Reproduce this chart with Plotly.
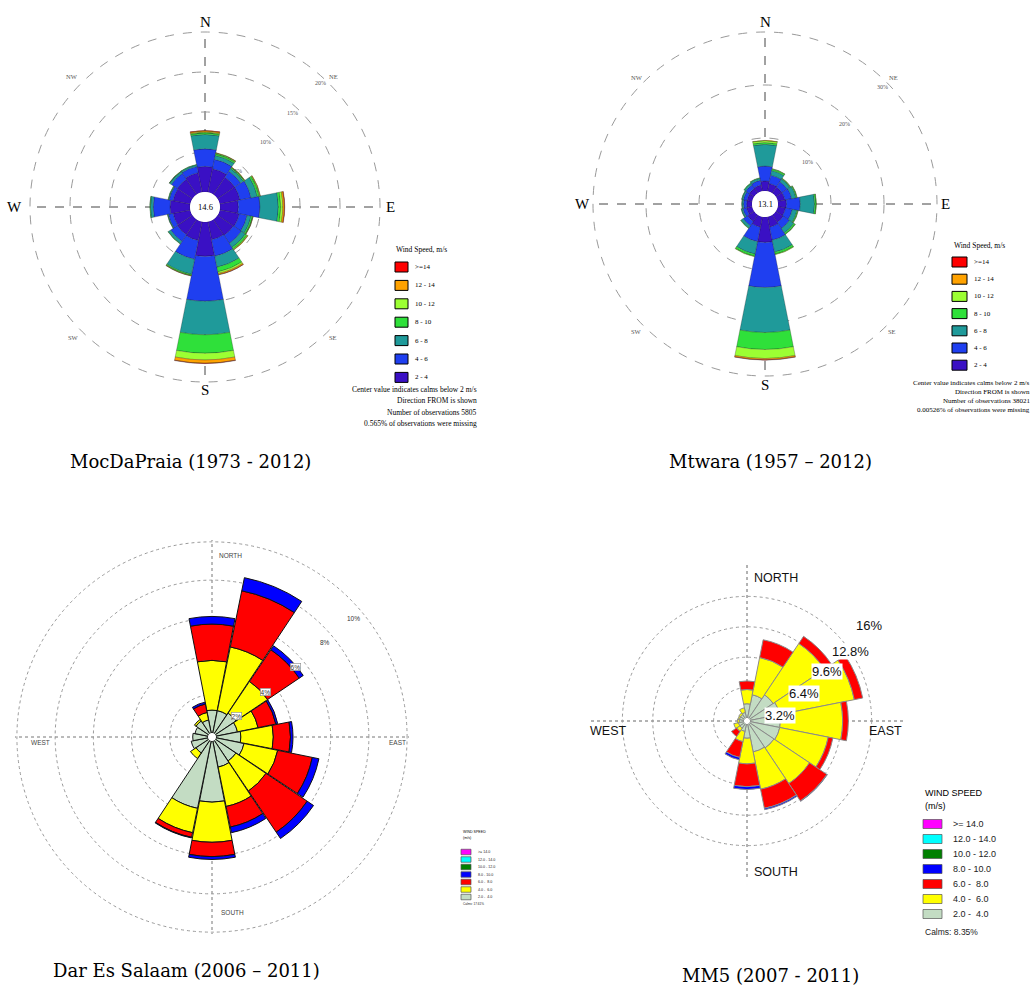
import math
import plotly.graph_objects as go

W, H = 1034, 987
SERIF = "Liberation Serif, DejaVu Serif, serif"
SERIF_WIDE = "DejaVu Serif, Liberation Serif, serif"
SANS = "Liberation Sans, Arial, sans-serif"

# ---------------- data ----------------
DIRECTIONS = ["N", "NNE", "NE", "ENE", "E", "ESE", "SE", "SSE",
              "S", "SSW", "SW", "WSW", "W", "WNW", "NW", "NNW"]
DIR_DEG = [0, 22.5, 45, 67.5, 90, 112.5, 135, 157.5,
           180, 202.5, 225, 247.5, 270, 292.5, 315, 337.5]

BINS_A = ["2 - 4", "4 - 6", "6 - 8", "8 - 10", "10 - 12", "12 - 14", ">=14"]
COLORS_A = ["#3a10c4", "#1f3ff0", "#1f9a9a", "#2fe03a", "#9cff33", "#ffa200", "#ff0000"]

BINS_B = ["2.0 -  4.0", "4.0 -  6.0", "6.0 -  8.0", "8.0 - 10.0", "10.0 - 12.0", "12.0 - 14.0", ">= 14.0"]
COLORS_B = ["#c3dcc3", "#ffff00", "#ff0000", "#0000ff", "#008000", "#00ffff", "#ff00ff"]

# MocDaPraia (1973 - 2012), % frequency per direction
moc_2_4 = [3.2, 3.0, 2.6, 2.6, 2.3, 2.5, 2.4, 2.3, 4.3, 2.4, 2.3, 2.2, 2.5, 2.2, 2.3, 2.5]
moc_4_6 = [2.2, 1.2, 0.9, 1.4, 2.7, 1.0, 1.2, 2.1, 5.6, 2.4, 1.0, 0.6, 2.1, 0.5, 0.9, 0.8]
moc_6_8 = [1.8, 0.5, 0.4, 0.8, 2.3, 0.5, 0.6, 1.4, 4.2, 1.9, 0.35, 0.1, 0.35, 0.1, 0.25, 0.2]
moc_8_10 = [0.2, 0.2, 0.15, 0.25, 0.3, 0.2, 0.25, 0.6, 2.3, 0.15, 0.05, 0.03, 0.08, 0.05, 0.05, 0.05]
moc_10_12 = [0.1, 0.1, 0.05, 0.1, 0.25, 0.05, 0.1, 0.2, 0.85, 0.05, 0.0, 0.0, 0.0, 0.0, 0.02, 0.0]
moc_12_14 = [0.15, 0.05, 0.03, 0.05, 0.2, 0.02, 0.05, 0.15, 0.4, 0.02, 0.0, 0.0, 0.0, 0.0, 0.0, 0.0]
moc_14 = [0.05, 0.0, 0.0, 0.0, 0.05, 0.0, 0.0, 0.02, 0.05, 0.0, 0.0, 0.0, 0.0, 0.0, 0.0, 0.0]

# Mtwara (1957 - 2012)
mtw_2_4 = [1.9, 1.5, 1.4, 1.4, 1.6, 1.5, 1.7, 2.0, 4.8, 2.0, 1.5, 1.1, 1.0, 1.0, 1.1, 1.2]
mtw_4_6 = [2.8, 1.6, 1.2, 1.3, 2.6, 1.3, 1.4, 2.5, 8.5, 2.8, 1.0, 0.7, 0.6, 0.7, 0.8, 0.9]
mtw_6_8 = [4.1, 0.9, 0.6, 0.8, 2.7, 0.9, 1.0, 2.3, 8.5, 2.4, 0.5, 0.3, 0.3, 0.3, 0.35, 0.4]
mtw_8_10 = [0.35, 0.3, 0.15, 0.2, 0.3, 0.2, 0.3, 0.4, 3.2, 0.4, 0.1, 0.05, 0.05, 0.05, 0.1, 0.1]
mtw_10_12 = [0.35, 0.05, 0.05, 0.05, 0.05, 0.05, 0.05, 0.1, 1.7, 0.1, 0.0, 0.0, 0.0, 0.0, 0.0, 0.0]
mtw_12_14 = [0.05, 0.0, 0.0, 0.0, 0.0, 0.0, 0.0, 0.0, 0.25, 0.0, 0.0, 0.0, 0.0, 0.0, 0.0, 0.0]
mtw_14 = [0.0, 0.0, 0.0, 0.0, 0.0, 0.0, 0.0, 0.0, 0.05, 0.0, 0.0, 0.0, 0.0, 0.0, 0.0, 0.0]

# Dar Es Salaam (2006 - 2011)
dar_2_4 = [1.2, 1.2, 1.3, 1.15, 1.3, 1.5, 1.3, 1.4, 3.2, 3.6, 0.8, 0.9, 0.8, 0.7, 0.8, 0.7]
dar_4_6 = [2.6, 3.4, 2.0, 1.1, 1.7, 1.8, 1.9, 2.1, 2.1, 1.3, 0.35, 0.0, 0.0, 0.0, 0.1, 0.4]
dar_6_8 = [1.9, 3.0, 2.0, 0.95, 0.9, 1.85, 2.6, 1.1, 0.75, 0.25, 0.0, 0.0, 0.0, 0.0, 0.0, 0.45]
dar_8_10 = [0.4, 0.7, 0.25, 0.1, 0.13, 0.35, 0.4, 0.3, 0.15, 0.03, 0.0, 0.0, 0.0, 0.0, 0.0, 0.1]

# MM5 (2007 - 2011)
mm5_2_4 = [1.5, 2.5, 3.0, 3.2, 3.2, 3.2, 3.1, 3.0, 1.5, 0.8, 0.6, 0.6, 0.5, 0.5, 0.5, 0.6]
mm5_4_6 = [1.5, 4.0, 6.5, 8.0, 6.55, 5.2, 4.5, 4.0, 2.7, 1.1, 0.4, 0.5, 0.2, 0.15, 0.2, 0.5]
mm5_6_8 = [0.9, 1.9, 0.9, 0.9, 0.6, 0.5, 2.2, 2.05, 2.4, 1.7, 0.65, 0.0, 0.0, 0.0, 0.0, 0.0]
mm5_8_10 = [0.0, 0.0, 0.0, 0.0, 0.0, 0.0, 0.05, 0.15, 0.3, 0.25, 0.0, 0.0, 0.0, 0.0, 0.0, 0.0]

TICKS_MOC = [5, 10, 15, 20]
TICKS_MTW = [10, 20, 30]
TICKS_DAR = [2, 4, 6, 8, 10]
TICKS_MM5 = [3.2, 6.4, 9.6, 12.8, 16]

CAPTIONS = ["MocDaPraia (1973 - 2012)", "Mtwara (1957 \u2013 2012)",
            "Dar Es Salaam (2006 \u2013 2011)", "MM5 (2007 - 2011)"]

# ---------------- geometry (window pixels) ----------------
P = {
    "polar":  dict(cx=205, cy=207, R=177, rmax=20.25, r0=15),
    "polar2": dict(cx=765, cy=204, R=173.6, rmax=30.3, r0=13),
    "polar3": dict(cx=212, cy=737, R=197, rmax=10.1, r0=4),
    "polar4": dict(cx=747, cy=721, R=156, rmax=16.1, r0=3),
}


def px(x, y):
    return x / W, 1 - y / H


def polar_xy(key, v, ang, off=0.0):
    g = P[key]
    k = (g["R"] - g["r0"]) / g["rmax"]
    r = g["r0"] + v * k + off
    a = math.radians(ang)
    return g["cx"] + r * math.sin(a), g["cy"] - r * math.cos(a)


fig = go.Figure()
annotations = []
shapes = []


def ann(x, y, text, size, family, color="black", xanchor="center", yanchor="middle",
        bg=None, border=None, pad=1):
    xx, yy = px(x, y)
    d = dict(x=xx, y=yy, xref="paper", yref="paper", text=text, showarrow=False,
             font=dict(size=size, family=family, color=color),
             xanchor=xanchor, yanchor=yanchor)
    if bg:
        d["bgcolor"] = bg
        d["borderpad"] = pad
    if border:
        d["bordercolor"] = border
        d["borderwidth"] = 0.6
    annotations.append(d)


def add_rose(key, series, colors, names, width, line_color, line_width):
    for vals, col, name in zip(series, colors, names):
        if max(vals) <= 0:
            continue
        fig.add_trace(go.Barpolar(
            r=vals, theta=DIR_DEG, width=width, name=name, subplot=key,
            marker=dict(color=col, line=dict(color=line_color, width=line_width)),
            showlegend=False, hovertemplate="%{theta}\u00b0: %{r}%<extra>" + name + "</extra>"))


add_rose("polar", [moc_2_4, moc_4_6, moc_6_8, moc_8_10, moc_10_12, moc_12_14, moc_14],
         COLORS_A, BINS_A, 22.5, "rgba(30,30,30,0.55)", 0.5)
add_rose("polar2", [mtw_2_4, mtw_4_6, mtw_6_8, mtw_8_10, mtw_10_12, mtw_12_14, mtw_14],
         COLORS_A, BINS_A, 22.5, "rgba(30,30,30,0.55)", 0.5)
add_rose("polar3", [dar_2_4, dar_4_6, dar_6_8, dar_8_10],
         COLORS_B, BINS_B, 22.0, "#111111", 1.0)
add_rose("polar4", [mm5_2_4, mm5_4_6, mm5_6_8, mm5_8_10],
         COLORS_B, BINS_B, 22.5, "#8a8a8a", 1.0)


def polar_layout(key, ticks, dash, circ_col, axis_col, axis_w):
    g = P[key]
    cx, cy, R = g["cx"], g["cy"], g["R"]
    x0, y1 = px(cx - R, cy - R)
    x1, y0 = px(cx + R, cy + R)
    return dict(
        domain=dict(x=[x0, x1], y=[y0, y1]),
        hole=g["r0"] / R,
        bgcolor="rgba(0,0,0,0)",
        barmode="stack",
        radialaxis=dict(range=[0, g["rmax"]], tickvals=ticks, showticklabels=False,
                        ticks="", showline=False, gridcolor=circ_col, griddash=dash,
                        gridwidth=1),
        angularaxis=dict(rotation=90, direction="clockwise", tickvals=[0, 90, 180, 270],
                         showticklabels=False, ticks="", showline=False,
                         gridcolor=axis_col, griddash=dash, gridwidth=axis_w),
    )


# ---------------- panel 1 text ----------------
ann(205, 22, "N", 15, SERIF)
ann(205, 390, "S", 15, SERIF)
ann(14, 207, "W", 15, SERIF)
ann(390, 207, "E", 15, SERIF)
for t, (x, y) in zip(["NE", "NW", "SE", "SW"], [(333, 76), (72, 76), (333, 338), (73, 338)]):
    ann(x, y, t, 6.5, SERIF, "#555")
for v in TICKS_MOC:
    x, y = polar_xy("polar", v, 43, -6)
    ann(x, y, f"{v}%", 6, SERIF, "#555")
ann(205, 207, "14.6", 8.5, SERIF)

# ---------------- panel 2 text ----------------
ann(765, 22, "N", 15, SERIF)
ann(765, 385, "S", 15, SERIF)
ann(582, 204, "W", 15, SERIF)
ann(945, 204, "E", 15, SERIF)
for t, (x, y) in zip(["NE", "NW", "SE", "SW"], [(893, 77), (637, 77), (892, 331), (636, 331)]):
    ann(x, y, t, 6.5, SERIF, "#555")
for v in TICKS_MTW:
    x, y = polar_xy("polar2", v, 45, -6)
    ann(x, y, f"{v}%", 6, SERIF, "#555")
ann(765, 204, "13.1", 8.5, SERIF)


def legend_a(title_xy, box_x, box_w, box_h, y0, dy, label_x, size):
    ann(title_xy[0], title_xy[1], "Wind Speed, m/s", size, SERIF, xanchor="left")
    for i, (name, col) in enumerate(zip(BINS_A[::-1], COLORS_A[::-1])):
        yc = y0 + i * dy
        x0p, y1p = px(box_x, yc - box_h / 2)
        x1p, y0p = px(box_x + box_w, yc + box_h / 2)
        shapes.append(dict(type="rect", xref="paper", yref="paper", x0=x0p, x1=x1p,
                           y0=y0p, y1=y1p, fillcolor=col, line=dict(color="black", width=1)))
        ann(label_x, yc, name, size - 0.5, SERIF, xanchor="left")


legend_a((394, 249), 395, 13, 10, 267, 18.4, 413, 7.5)
legend_a((952, 245), 952, 15, 10, 262, 17.2, 972, 7.5)

FOOT1 = ["Center value indicates calms below 2 m/s", "Direction FROM is shown",
         "Number of observations 5805", "0.565% of observations were missing"]
FOOT2 = ["Center value indicates calms below 2 m/s", "Direction FROM is shown",
         "Number of observations 38021", "0.00526% of observations were missing"]
for i, t in enumerate(FOOT1):
    ann(479, 389 + i * 11.5, t, 7.5, SERIF, xanchor="right")
for i, t in enumerate(FOOT2):
    ann(1032, 383 + i * 9, t, 7.0, SERIF, xanchor="right")

# ---------------- panel 3 text ----------------
ann(230, 555, "NORTH", 6.5, SANS, "#444")
ann(232, 912, "SOUTH", 6.5, SANS, "#444")
ann(40, 742, "WEST", 6.5, SANS, "#444")
ann(397, 742, "EAST", 6.5, SANS, "#444")
for v in TICKS_DAR:
    x, y = polar_xy("polar3", v, 50, -10)
    ann(x, y, f"{v}%", 6.5, SANS, "#333", bg="white",
        border="#888" if v <= 6 else None, pad=0)


def legend_b(x_box, box_w, box_h, y0, dy, label_x, size, title_y, sub_y, calms_y, calms):
    ann(x_box, title_y, "WIND SPEED", size, SANS, xanchor="left")
    ann(x_box, sub_y, "(m/s)", size, SANS, xanchor="left")
    for i, (name, col) in enumerate(zip(BINS_B[::-1], COLORS_B[::-1])):
        yc = y0 + i * dy
        x0p, y1p = px(x_box, yc - box_h / 2)
        x1p, y0p = px(x_box + box_w, yc + box_h / 2)
        shapes.append(dict(type="rect", xref="paper", yref="paper", x0=x0p, x1=x1p,
                           y0=y0p, y1=y1p, fillcolor=col,
                           line=dict(color="#555", width=0.7)))
        ann(label_x, yc, name, size, SANS, "#222", xanchor="left")
    ann(x_box, calms_y, calms, size - 0.5, SANS, "#222", xanchor="left")


legend_b(461, 10, 5.5, 852, 7.5, 476, 3.6, 832, 838, 904, "Calms: 17.61%")

# ---------------- panel 4 text ----------------
ann(776, 578, "NORTH", 12.5, SANS, "#111")
ann(776, 872, "SOUTH", 12.5, SANS, "#111")
ann(608, 731, "WEST", 12.5, SANS, "#111")
ann(885, 731, "EAST", 12.5, SANS, "#111")
MM5_LABEL_ANG = [80, 64, 58.5, 56, 52]
for v, a in zip(TICKS_MM5, MM5_LABEL_ANG):
    x, y = polar_xy("polar4", v, a, 0)
    ann(x, y, f"{v:g}%", 13, SANS, "#111", bg="white", pad=0)
legend_b(923, 19, 9, 824, 15, 951, 9, 793, 806, 932, "Calms: 8.35%")

# ---------------- captions ----------------
ann(190, 461, CAPTIONS[0], 18, SERIF_WIDE)
ann(770, 461, CAPTIONS[1], 18, SERIF_WIDE)
ann(186, 970, CAPTIONS[2], 18, SERIF_WIDE)
ann(770, 975, CAPTIONS[3], 18, SERIF_WIDE)

fig.update_layout(
    width=W, height=H, margin=dict(l=0, r=0, t=0, b=0),
    paper_bgcolor="white", plot_bgcolor="white", showlegend=False,
    polar=polar_layout("polar", TICKS_MOC, "dash", "#9a9a9a", "#444", 1.2),
    polar2=polar_layout("polar2", TICKS_MTW, "dash", "#9a9a9a", "#444", 1.2),
    polar3=polar_layout("polar3", TICKS_DAR, "dot", "#9a9a9a", "#777", 1),
    polar4=polar_layout("polar4", TICKS_MM5, "dot", "#9a9a9a", "#666", 1),
    annotations=annotations, shapes=shapes,
)

# remove the browser's default 8px body margin so the figure fills the window
fig.write_html("out.html", config={"displayModeBar": False},
               post_script="document.body.style.margin='0px';")
